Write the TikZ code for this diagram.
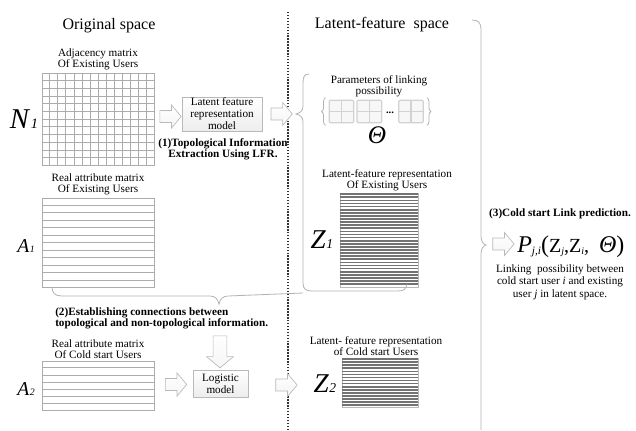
\documentclass[tikz,border=0pt]{standalone}
\usepackage{fontspec}
\setmainfont{Liberation Serif}
\usetikzlibrary{positioning,calc,shapes.arrows,shadows,decorations.pathreplacing}

% italic matrix letter with its small index
\newcommand{\matname}[2]{\textit{#1}\kern0.3pt\scalebox{0.5}{\textit{#2}}}

\begin{document}
\begin{tikzpicture}[x=0.75pt, y=-0.75pt,
    every node/.style={inner sep=0pt},
    heading/.style={font=\fontsize{12}{14}\selectfont},
    caption/.style={align=center, font=\fontsize{8.4}{8.4}\selectfont},
    stage/.style={align=center, font=\bfseries\fontsize{8.4}{8.6}\selectfont},
    matlabel/.style={anchor=base},
    matbox/.style={draw=gray!65, fill=white, line width=0.6pt},
    cellline/.style={gray!65, line width=0.45pt},
    stripe/.style={black!55, line width=1.3pt},
    model/.style={draw=gray!55, top color=white, bottom color=gray!14, align=center,
      inner sep=0.5pt, font=\fontsize{8.4}{9}\selectfont,
      drop shadow={opacity=0.25, shadow xshift=0.8pt, shadow yshift=-0.8pt}},
    hollow/.style={single arrow, draw=gray!55, top color=white, bottom color=gray!8,
      line width=0.5pt, inner xsep=0pt, inner ysep=4.2pt, single arrow head extend=4.2pt,
      minimum height=16pt, single arrow tip angle=100},
    paramsq/.style={draw=gray!35, fill=gray!6, line width=0.9pt, rounded corners=1pt,
      minimum width=18.5pt, minimum height=17pt,
      path picture={\draw[gray!35, line width=0.9pt]
        (path picture bounding box.north) -- (path picture bounding box.south)
        (path picture bounding box.west) -- (path picture bounding box.east);}},
    brace/.style={draw=gray!60, line width=0.6pt},
  ]
  \useasboundingbox (0,0) rectangle (636,430);

  % headings and the dotted split between the two spaces
  \node[heading, anchor=base] (orig) at (109,29) {Original space};
  \node[heading, anchor=base] (latent) at (382,28) {Latent-feature\ \ space};
  \coordinate (sep top) at (288,12);
  \coordinate (sep bot) at (288,430);
  \draw[line width=1.1pt, dash pattern=on 1.1pt off 1.1pt, black!80] (sep top) -- (sep bot);

  % adjacency matrix N1
  \node[matbox, minimum width=84pt, minimum height=69pt] (adj) at (98,119) {};
  \foreach \i in {1,...,13}
    \draw[cellline] ($(adj.north west)!\i/14!(adj.north east)$) -- ($(adj.south west)!\i/14!(adj.south east)$);
  \foreach \i in {1,...,11}
    \draw[cellline] ($(adj.north west)!\i/12!(adj.south west)$) -- ($(adj.north east)!\i/12!(adj.south east)$);
  \node[caption, above=1.5pt of adj] (adjcap) {Adjacency matrix\\Of Existing Users};
  \node[matlabel, font=\fontsize{21.5}{21.5}\selectfont] (nlab) at (24,128) {\matname{N}{1}};

  % attribute matrix A1
  \node[matbox, minimum width=84pt, minimum height=66.75pt] (attrE) at (98,242.5) {};
  \foreach \i in {1,...,11}
    \draw[cellline] ($(attrE.north west)!\i/12!(attrE.south west)$) -- ($(attrE.north east)!\i/12!(attrE.south east)$);
  \node[caption, above=1.5pt of attrE] (attrEcap) {Real attribute matrix\\Of Existing Users};
  \node[matlabel, font=\fontsize{14.7}{14.7}\selectfont] (alab1) at (26,252) {\matname{A}{1}};

  % attribute matrix A2
  \node[matbox, minimum width=84pt, minimum height=36.75pt] (attrC) at (98,385.5) {};
  \foreach \i in {1,...,6}
    \draw[cellline] ($(attrC.north west)!\i/7!(attrC.south west)$) -- ($(attrC.north east)!\i/7!(attrC.south east)$);
  \node[caption, above=1.5pt of attrC] (attrCcap) {Real attribute matrix\\Of Cold start Users};
  \node[matlabel, font=\fontsize{14.7}{14.7}\selectfont] (alab2) at (26,395) {\matname{A}{2}};

  % models
  \node[model, minimum width=60pt, minimum height=25.5pt] (lfr) at (222,114) {Latent feature\\representation\\model};
  \node[model, minimum width=41.25pt, minimum height=20.25pt] (logit) at (220.5,383.5) {Logistic\\model};
  \node[stage, anchor=north] (stepone) at (223,138) {(1)Topological Information\\Extraction Using LFR.};
  \node[stage, anchor=north west, align=left] (steptwo) at (55,307) {(2)Establishing connections between\\topological and non-topological information.};

  % linking parameters
  \node[caption] (paramcap) at (379,86) {Parameters of linking\\possibility};
  \node[paramsq] (sq1) at (341.5,111.5) {};
  \node[paramsq, right=1.5pt of sq1] (sq2) {};
  \node[anchor=base, font=\bfseries\fontsize{8}{8}\selectfont] (dots) at (390,113) {...};
  \node[paramsq] (sq3) at (411,111.5) {};
  \draw[brace, decorate, decoration={brace, amplitude=3pt}]
    ($(sq1.south west)+(-3,2)$) -- ($(sq1.north west)+(-3,-2)$);
  \draw[brace, decorate, decoration={brace, amplitude=3pt}]
    ($(sq3.north east)+(3,-2)$) -- ($(sq3.south east)+(3,2)$);
  \node[anchor=base, font=\fontsize{19}{19}\selectfont\itshape] (theta) at (377,143) {Θ};

  % latent features Z1
  \node[matbox, draw=gray!55, minimum width=58.5pt, minimum height=70.5pt] (zexist) at (379,240) {};
  \foreach \k in {0,...,29}
    \draw[stripe] ($(zexist.north west)+(0,1.6+\k*3.1)$) -- ($(zexist.north east)+(0,1.6+\k*3.1)$);
  \node[caption, above=1pt of zexist, xshift=6pt] (zexistcap) {Latent-feature representation\\Of Existing Users};
  \node[matlabel, font=\fontsize{20.4}{20.4}\selectfont] (zlab1) at (322,248) {\matname{Z}{1}};

  % latent features Z2
  \node[matbox, draw=gray!55, minimum width=57pt, minimum height=36.75pt] (zcold) at (380,382.5) {};
  \foreach \k in {0,...,15}
    \draw[stripe] ($(zcold.north west)+(0,1.6+\k*3.05)$) -- ($(zcold.north east)+(0,1.6+\k*3.05)$);
  \node[caption, above=1pt of zcold, xshift=-3pt] (zcoldcap) {Latent- feature representation\\of Cold start Users};
  \node[matlabel, font=\fontsize{20.4}{20.4}\selectfont] (zlab2) at (325,392) {\matname{Z}{2}};

  % braces
  \coordinate (lfrtip) at (296,114);
  \coordinate (conntip) at (219,304);
  \coordinate (predtip) at (486,245);
  \draw[brace] (309,74) .. controls (304,74) and (303,77) .. (303,84) -- (303,106)
    .. controls (303,111) and (300,113) .. (lfrtip)
    .. controls (300,115) and (303,117) .. (303,122) -- (303,283)
    .. controls (303,289) and (306,291) .. (312,291) -- (398,291)
    .. controls (404,291) and (406,289) .. (407,284);
  \draw[brace] (52,287) .. controls (52,293) and (55,296) .. (62,296) -- (210,296)
    .. controls (215,296) and (218,299) .. (conntip)
    .. controls (220,299) and (223,296) .. (228,296) -- (303,293);
  \draw[brace] (472,20) .. controls (478,20) and (481,22) .. (481,30) -- (481,236)
    .. controls (481,241) and (483,244) .. (predtip)
    .. controls (483,246) and (481,249) .. (481,254) -- (481,430);

  % prediction
  \node[stage, anchor=base] (stepthree) at (560,216) {(3)Cold start Link prediction.};
  \node[anchor=base west, font=\fontsize{18}{18}\selectfont] (pred) at (517,252)
    {\textit{P}\raisebox{-1.5pt}{\fontsize{8.5}{8.5}\selectfont\textit{j,i}}(\fontsize{15}{15}\selectfont Z\raisebox{-1.5pt}{\fontsize{7.5}{7.5}\selectfont\textit{j}},Z\raisebox{-1.5pt}{\fontsize{7.5}{7.5}\selectfont\textit{i}},\ \ \fontsize{18}{18}\selectfont\textit{Θ})};
  \node[caption, anchor=north, font=\fontsize{8.4}{9.4}\selectfont] (preddesc) at (560,264)
    {Linking\ \ possibility between\\cold start user \textit{i} and existing\\user \textit{j} in latent space.};

  % hollow arrows
  \node[hollow] (tolfr) at ($(adj.east)!0.5!(lfr.west)$) {};
  \node[hollow] (fromlfr) at ($(lfr.east)!0.5!(lfrtip)$) {};
  \node[hollow, rotate=-90, minimum height=24pt, inner ysep=4.9pt,
    single arrow head extend=4.9pt] (tologit) at (220,349) {};
  \node[hollow] (fromattr) at ($(attrC.east)!0.5!(logit.west)$) {};
  \node[hollow] (tozcold) at (284,385) {};
  \node[hollow] (topred) at (501,244) {};
\end{tikzpicture}
\end{document}
